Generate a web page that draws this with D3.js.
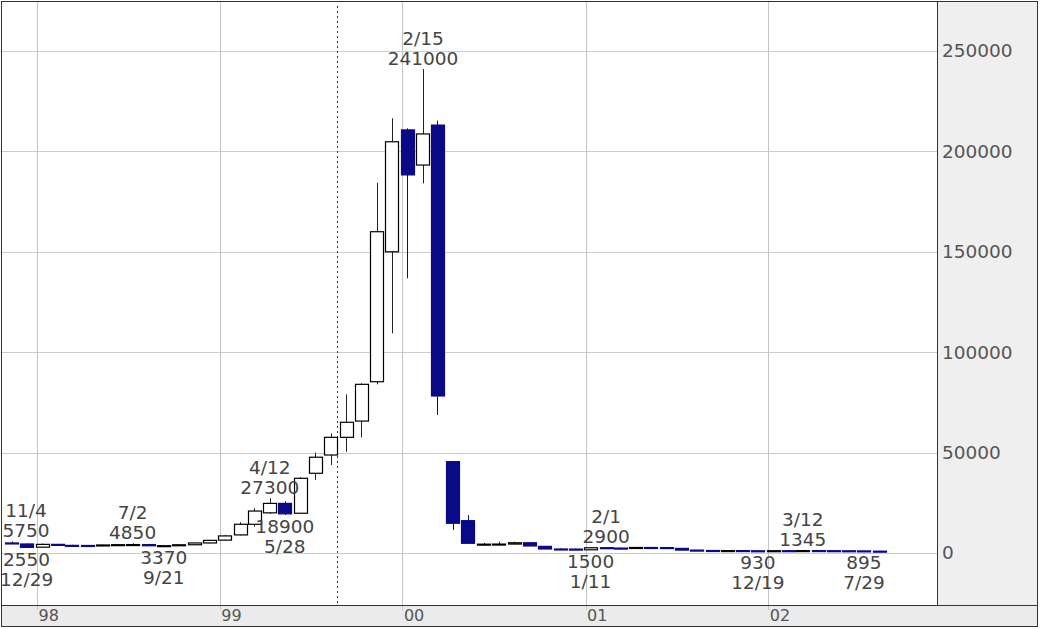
<!DOCTYPE html>
<html>
<head>
<meta charset="utf-8">
<script src="https://d3js.org/d3.v7.min.js"></script>
<style>
  body { margin: 0; background: #fff; }
  text { font-family: "DejaVu Sans", Verdana, sans-serif; }
</style>
</head>
<body>
<div id="container"></div>
<script>
// monthly candles, Nov 1997 - Aug 2002
const months = ["1997-11","1997-12",
  "1998-01","1998-02","1998-03","1998-04","1998-05","1998-06","1998-07","1998-08","1998-09","1998-10","1998-11","1998-12",
  "1999-01","1999-02","1999-03","1999-04","1999-05","1999-06","1999-07","1999-08","1999-09","1999-10","1999-11","1999-12",
  "2000-01","2000-02","2000-03","2000-04","2000-05","2000-06","2000-07","2000-08","2000-09","2000-10","2000-11","2000-12",
  "2001-01","2001-02","2001-03","2001-04","2001-05","2001-06","2001-07","2001-08","2001-09","2001-10","2001-11","2001-12",
  "2002-01","2002-02","2002-03","2002-04","2002-05","2002-06","2002-07","2002-08"];
const opens  = [5000,4500, 2900,4300,3800,3750,3700,4000,4150,4200,3600,3650,4100,5000,
  6400,9000,14300,20000,24700,19800,39700,48800,57600,65700,85300,150000,
  210700,193200,213100,45500,16100,4000,4400,4450,5100,3300,2000,1950,
  1600,2650,2450,2400,2750,2700,2300,1450,1250,1150,1200,1100,
  1050,1150,1100,1200,1150,1100,1050,920];
const highs  = [5750,4700, 4700,4500,4100,3950,4200,4400,4850,4300,3800,4200,5200,6500,
  9000,15300,22300,27300,25800,37800,50000,59600,79000,84500,184400,216500,
  211500,241000,215300,45800,18900,5000,5600,5600,5300,3400,2300,2200,
  2700,2900,2700,2850,2850,2750,2400,1600,1350,1300,1280,1200,
  1250,1250,1345,1300,1250,1200,1100,980];
const lows   = [4400,2550, 2800,3600,3500,3550,3600,3800,3900,3500,3370,3500,4000,4800,
  6200,8800,13100,19500,18900,19500,36400,43800,50400,57600,84000,109400,
  136800,184100,68700,11500,4500,3700,4000,4300,3400,1900,1700,1600,
  1500,2300,2200,2300,2500,2100,1300,1200,1000,1050,1050,930,
  1000,1050,1080,1100,1050,1000,895,900];
const closes = [4600,2800, 4300,3800,3750,3700,4000,4150,4200,3600,3650,4100,5000,6300,
  8500,14300,20900,24700,19500,37200,47700,57600,65100,84000,160000,204800,
  188300,208700,78200,14800,4830,4400,4450,5100,3500,2000,1950,1800,
  2600,2450,2400,2750,2700,2300,1450,1250,1150,1200,1100,1050,
  1150,1100,1200,1150,1100,1050,920,910];

// high / low annotations
const noteIdx    = [0,1,8,10,17,18,27,38,39,49,52,56];
const noteDates  = ["11/4","12/29","7/2","9/21","4/12","5/28","2/15","1/11","2/1","12/19","3/12","7/29"];
const noteValues = [5750,2550,4850,3370,27300,18900,241000,1500,2900,930,1345,895];
const noteKinds  = ["high","low","high","low","high","low","high","low","high","low","high","low"];

const yTicks = [0,50000,100000,150000,200000,250000];
const yearTicks = ["1998-01-01","1999-01-01","2000-01-01","2001-01-01","2002-01-01"];
const yearLabels = ["98","99","00","01","02"];
const markerDate = "1999-08-23";

const W = 1040, H = 629;
const pLeft = 2, pRight = 937, pTop = 2, pBottom = 605;

const parseM = d3.timeParse("%Y-%m");
const parseD = d3.timeParse("%Y-%m-%d");

const x = d3.scaleTime()
  .domain([parseD("1997-10-23"), parseD("2002-12-04")])
  .range([pLeft, pRight]);
const y = d3.scaleLinear()
  .domain([0, 250000])
  .range([553, 51]);

const svg = d3.select('#container').append('svg')
  .attr('width', W).attr('height', H);

// panels
svg.append('rect').attr('x', pRight).attr('y', pTop).attr('width', 1037 - pRight).attr('height', pBottom - pTop).attr('fill', '#efefef');
svg.append('rect').attr('x', pLeft).attr('y', pBottom).attr('width', 1037 - pLeft).attr('height', 626 - pBottom).attr('fill', '#ebebeb');

svg.append('clipPath').attr('id', 'plot').append('rect')
  .attr('x', pLeft).attr('y', pTop).attr('width', pRight - pLeft).attr('height', pBottom - pTop);

// grid
const grid = svg.append('g');
grid.selectAll('.hg').data(yTicks).enter().append('line')
  .attr('x1', pLeft).attr('x2', pRight)
  .attr('y1', d => Math.round(y(d)) + 0.5).attr('y2', d => Math.round(y(d)) + 0.5)
  .attr('stroke', '#cccccc');
grid.selectAll('.vg').data(yearTicks).enter().append('line')
  .attr('x1', d => Math.round(x(parseD(d))) + 0.5).attr('x2', d => Math.round(x(parseD(d))) + 0.5)
  .attr('y1', pTop).attr('y2', pBottom + 5)
  .attr('stroke', '#c4c4c4');

// dotted marker
svg.append('line')
  .attr('x1', Math.round(x(parseD(markerDate))) + 0.5).attr('x2', Math.round(x(parseD(markerDate))) + 0.5)
  .attr('y1', pTop + 4).attr('y2', pBottom)
  .attr('stroke', '#333').attr('stroke-dasharray', '2,3');

// candles
const data = months.map((m, i) => ({
  t: d3.timeDay.offset(parseM(m), 10),
  o: opens[i], h: highs[i], l: lows[i], c: closes[i]
}));
const bw = 13;
const candles = svg.append('g').attr('clip-path', 'url(#plot)');
const upCol = '#000', dnCol = '#0a0a88';

candles.selectAll('.wick').data(data).enter().append('line')
  .attr('x1', d => Math.round(x(d.t)) + 0.5).attr('x2', d => Math.round(x(d.t)) + 0.5)
  .attr('y1', d => y(d.h)).attr('y2', d => y(d.l))
  .attr('stroke', d => d.c >= d.o ? '#222' : dnCol);

candles.selectAll('.body').data(data).enter().append('rect')
  .attr('x', d => Math.round(x(d.t) - bw / 2) + 0.5)
  .attr('y', d => y(Math.max(d.o, d.c)))
  .attr('width', bw)
  .attr('height', d => Math.max(1, y(Math.min(d.o, d.c)) - y(Math.max(d.o, d.c))))
  .attr('fill', d => d.c >= d.o ? '#fff' : dnCol)
  .attr('stroke', d => d.c >= d.o ? upCol : dnCol)
  .attr('stroke-width', 1.2);

// annotations
const notes = svg.append('g').attr('clip-path', 'url(#plot)')
  .attr('font-size', 18.5).attr('fill', '#444').attr('text-anchor', 'middle');
noteIdx.forEach((idx, i) => {
  const cx = Math.max(x(data[idx].t), pLeft + 24);
  const yv = y(noteValues[i]);
  const val = String(noteValues[i]);
  if (noteKinds[i] === 'high') {
    notes.append('text').attr('x', cx).attr('y', yv - 24).text(noteDates[i]);
    notes.append('text').attr('x', cx).attr('y', yv - 4).text(val);
  } else {
    notes.append('text').attr('x', cx).attr('y', yv + 18).text(val);
    notes.append('text').attr('x', cx).attr('y', yv + 38).text(noteDates[i]);
  }
});

// right axis
const yAxis = d3.axisRight(y).tickValues(yTicks).tickSize(0).tickPadding(5).tickFormat(d => String(d));
const ya = svg.append('g').attr('transform', `translate(${pRight},0)`).call(yAxis);
ya.select('.domain').remove();
ya.selectAll('text').attr('font-size', 18.5).attr('fill', '#555').attr('font-family', '"DejaVu Sans", Verdana, sans-serif');

// bottom axis
const xAxis = d3.axisBottom(x).tickValues(yearTicks.map(parseD)).tickSize(0).tickFormat((d, i) => yearLabels[i]);
const xa = svg.append('g').attr('transform', `translate(0,${pBottom})`).call(xAxis);
xa.select('.domain').remove();
xa.selectAll('text').attr('font-size', 16).attr('fill', '#555').attr('text-anchor', 'start')
  .attr('x', 1).attr('y', 16).attr('dy', null).attr('font-family', '"DejaVu Sans", Verdana, sans-serif');

// frame lines
svg.append('line').attr('x1', pRight + 0.5).attr('x2', pRight + 0.5).attr('y1', pTop).attr('y2', pBottom).attr('stroke', '#333');
svg.append('line').attr('x1', pLeft).attr('x2', 1037).attr('y1', pBottom + 0.5).attr('y2', pBottom + 0.5).attr('stroke', '#333');
svg.append('rect').attr('x', 1.5).attr('y', 1.5).attr('width', 1036).attr('height', 625)
  .attr('fill', 'none').attr('stroke', '#333');
</script>
</body>
</html>
